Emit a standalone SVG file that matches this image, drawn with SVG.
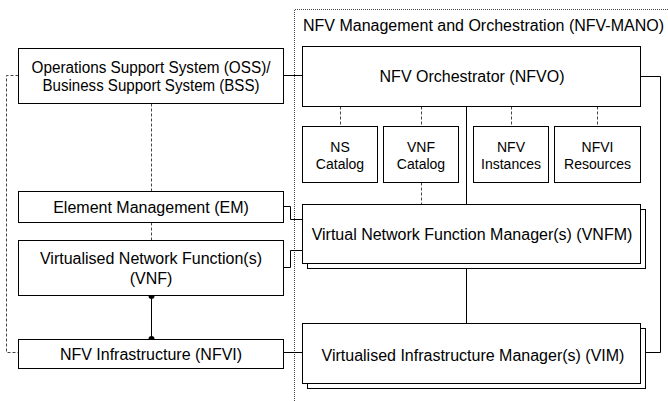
<svg xmlns="http://www.w3.org/2000/svg" width="668" height="401" viewBox="0 0 668 401">
<style>
.box{fill:#fff;stroke:#000;stroke-width:1}
.t{font-family:"Liberation Sans",Arial,sans-serif;font-size:16px;fill:#000;text-anchor:middle}
.s{font-size:14px}
.solid{fill:none;stroke:#000;stroke-width:1}
.dash{fill:none;stroke:#444;stroke-width:1;stroke-dasharray:3,2}
.frame{fill:none;stroke:#444;stroke-width:1;stroke-dasharray:1,1}
.dot{fill:#000}
</style>
<rect width="668" height="401" fill="#fff"/>
<g id="mano">
<path class="frame" d="M294.5,401 V9.5 H668"/>
<text class="t" x="303" y="31" style="text-anchor:start">NFV Management and Orchestration (NFV-MANO)</text>
</g>
<g id="connectors">
<path class="solid" d="M283.5,75.5 H302.5"/>
<path class="dash" d="M18.5,75.5 H6.5 V352.5 H18.5"/>
<path class="dash" d="M151.5,103.5 V191.5"/>
<path class="dash" d="M151.5,222.5 V240.5"/>
<path class="solid" d="M151.5,296 V339"/>
<circle class="dot" cx="151.5" cy="296" r="3"/>
<circle class="dot" cx="151.5" cy="339" r="3"/>
<path class="solid" d="M283.5,352.5 H302.5"/>
<path class="solid" d="M283.5,206.5 H290.5 V219.5 H302.5"/>
<path class="solid" d="M283.5,267.5 H290.5 V250.5 H302.5"/>
<path class="dash" d="M340.5,106.5 V126.5"/>
<path class="dash" d="M421.5,106.5 V126.5"/>
<path class="dash" d="M511.5,106.5 V126.5"/>
<path class="dash" d="M597.5,106.5 V126.5"/>
<path class="dash" d="M421.5,182.5 V204.5"/>
<path class="solid" d="M466.5,106.5 V204.5"/>
<path class="solid" d="M466.5,264 V323"/>
<path class="solid" d="M640.5,76.5 H660.5 V352.5 H645.5"/>
</g>
<g id="oss">
<rect class="box" x="18.5" y="48.5" width="265" height="55"/>
<text class="t" x="151" y="73" textLength="239" lengthAdjust="spacingAndGlyphs">Operations Support System (OSS)/</text>
<text class="t" x="151" y="91" textLength="217" lengthAdjust="spacingAndGlyphs">Business Support System (BSS)</text>
</g>
<g id="em">
<rect class="box" x="18.5" y="191.5" width="265" height="31"/>
<text class="t" x="151" y="212.5">Element Management (EM)</text>
</g>
<g id="vnf">
<rect class="box" x="18.5" y="240.5" width="265" height="55"/>
<text class="t" x="151" y="264">Virtualised Network Function(s)</text>
<text class="t" x="151" y="284">(VNF)</text>
</g>
<g id="nfvi">
<rect class="box" x="18.5" y="339.5" width="265" height="29"/>
<text class="t" x="151" y="360">NFV Infrastructure (NFVI)</text>
</g>
<g id="nfvo">
<rect class="box" x="302.5" y="46.5" width="338" height="60"/>
<text class="t" x="472" y="82">NFV Orchestrator (NFVO)</text>
</g>
<g id="ns-catalog">
<rect class="box" x="302.5" y="126.5" width="75" height="56"/>
<text class="t s" x="340" y="152">NS</text>
<text class="t s" x="340" y="169">Catalog</text>
</g>
<g id="vnf-catalog">
<rect class="box" x="383.5" y="126.5" width="75" height="56"/>
<text class="t s" x="421" y="152">VNF</text>
<text class="t s" x="421" y="169">Catalog</text>
</g>
<g id="nfv-instances">
<rect class="box" x="473.5" y="126.5" width="75" height="56"/>
<text class="t s" x="511" y="152">NFV</text>
<text class="t s" x="511" y="169">Instances</text>
</g>
<g id="nfvi-resources">
<rect class="box" x="554.5" y="126.5" width="86" height="56"/>
<text class="t s" x="597.5" y="152">NFVI</text>
<text class="t s" x="597.5" y="169">Resources</text>
</g>
<g id="vnfm">
<rect class="box" x="307.5" y="209.5" width="338" height="59"/>
<rect class="box" x="302.5" y="204.5" width="338" height="59"/>
<text class="t" x="472" y="240">Virtual Network Function Manager(s) (VNFM)</text>
</g>
<g id="vim">
<rect class="box" x="307.5" y="328.5" width="338" height="60"/>
<rect class="box" x="302.5" y="323.5" width="338" height="60"/>
<text class="t" x="473" y="361">Virtualised Infrastructure Manager(s) (VIM)</text>
</g>
</svg>
